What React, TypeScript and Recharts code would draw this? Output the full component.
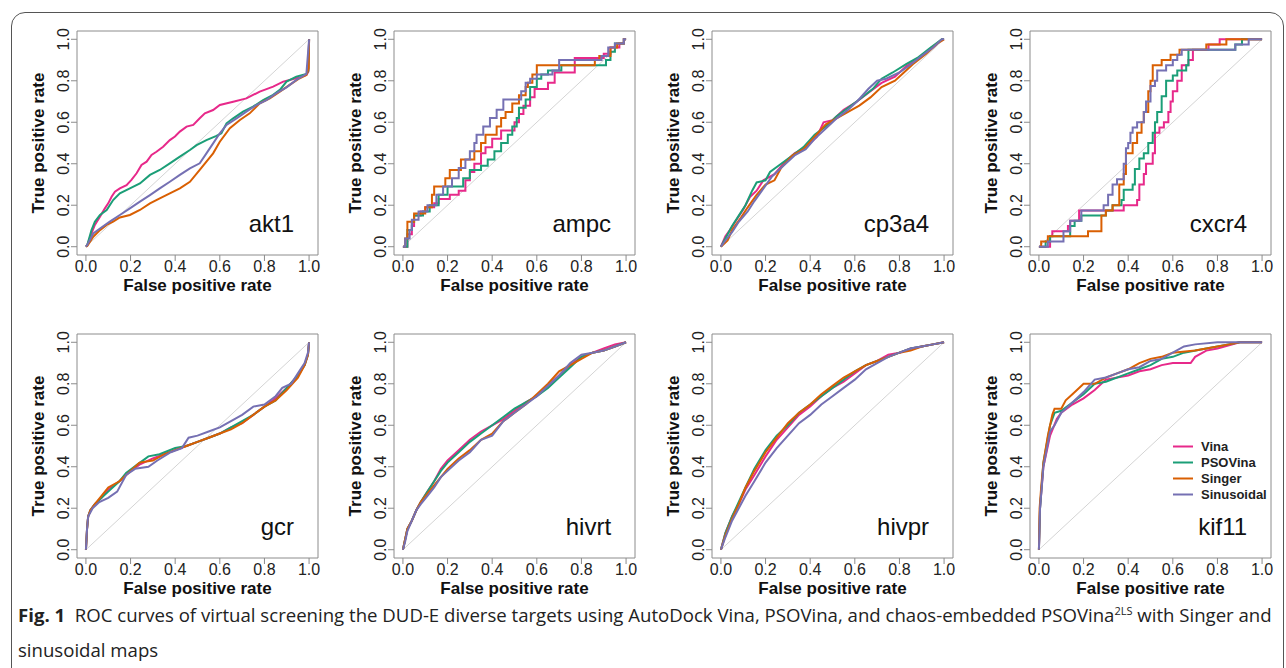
import { LineChart, Line, XAxis, YAxis, ReferenceLine, ReferenceArea, ReferenceDot, Label } from 'recharts';

type Pt = [number, number];

const SERIES_NAMES = ['Vina', 'PSOVina', 'Singer', 'Sinusoidal'];
const SERIES_COLORS = ['#e7298a', '#1b9e77', '#d95f02', '#7570b3'];
const TICKS = [0, 0.2, 0.4, 0.6, 0.8, 1.0];
const TARGETS = ['akt1', 'ampc', 'cp3a4', 'cxcr4', 'gcr', 'hivrt', 'hivpr', 'kif11'];
const STEPPED = ['ampc', 'cxcr4'];

// --- akt1
const AKT1_VINA: Pt[] = [[0, 0], [0.006, 0.008], [0.025, 0.064], [0.04, 0.105], [0.063, 0.145], [0.085, 0.185], [0.1, 0.209], [0.115, 0.241], [0.13, 0.265], [0.152, 0.281], [0.182, 0.297], [0.204, 0.322], [0.227, 0.354], [0.249, 0.394], [0.272, 0.41], [0.294, 0.442], [0.316, 0.458], [0.346, 0.482], [0.376, 0.514], [0.399, 0.531], [0.421, 0.555], [0.451, 0.579], [0.481, 0.587], [0.51, 0.619], [0.533, 0.643], [0.57, 0.659], [0.6, 0.683], [0.66, 0.699], [0.719, 0.715], [0.779, 0.748], [0.839, 0.772], [0.884, 0.796], [0.913, 0.804], [0.958, 0.817], [0.988, 0.828], [0.997, 0.844], [1, 0.997], [1, 1]];
const AKT1_PSOVINA: Pt[] = [[0, 0], [0.006, 0.008], [0.025, 0.08], [0.04, 0.12], [0.063, 0.153], [0.093, 0.177], [0.122, 0.225], [0.152, 0.257], [0.197, 0.281], [0.242, 0.305], [0.287, 0.346], [0.331, 0.37], [0.376, 0.402], [0.421, 0.434], [0.466, 0.466], [0.496, 0.49], [0.54, 0.514], [0.585, 0.534], [0.607, 0.547], [0.63, 0.595], [0.66, 0.619], [0.704, 0.651], [0.749, 0.675], [0.794, 0.707], [0.839, 0.732], [0.869, 0.756], [0.899, 0.796], [0.943, 0.82], [0.988, 0.833], [0.997, 0.849], [1, 0.997], [1, 1]];
const AKT1_SINGER: Pt[] = [[0, 0], [0.006, 0.003], [0.033, 0.048], [0.063, 0.08], [0.093, 0.105], [0.122, 0.121], [0.152, 0.141], [0.197, 0.153], [0.242, 0.177], [0.287, 0.209], [0.331, 0.233], [0.376, 0.257], [0.421, 0.281], [0.466, 0.313], [0.51, 0.37], [0.54, 0.41], [0.57, 0.45], [0.6, 0.506], [0.645, 0.571], [0.69, 0.611], [0.734, 0.643], [0.779, 0.691], [0.824, 0.715], [0.869, 0.748], [0.913, 0.78], [0.958, 0.812], [0.988, 0.828], [0.998, 0.86], [1, 1]];
const AKT1_SINUSOIDAL: Pt[] = [[0, 0], [0.006, 0.008], [0.033, 0.064], [0.063, 0.088], [0.107, 0.121], [0.152, 0.153], [0.197, 0.185], [0.242, 0.217], [0.287, 0.249], [0.331, 0.281], [0.376, 0.313], [0.421, 0.346], [0.466, 0.378], [0.51, 0.402], [0.54, 0.45], [0.57, 0.498], [0.6, 0.547], [0.63, 0.587], [0.675, 0.619], [0.719, 0.651], [0.764, 0.683], [0.809, 0.707], [0.854, 0.74], [0.899, 0.768], [0.943, 0.804], [0.988, 0.833], [1, 0.997], [1, 1]];

// --- ampc
const AMPC_VINA: Pt[] = [[0, 0], [0.02, 0.06], [0.04, 0.1], [0.05, 0.15], [0.08, 0.17], [0.1, 0.19], [0.14, 0.21], [0.16, 0.23], [0.21, 0.25], [0.25, 0.27], [0.28, 0.32], [0.3, 0.36], [0.32, 0.4], [0.35, 0.45], [0.37, 0.48], [0.4, 0.52], [0.44, 0.56], [0.5, 0.6], [0.52, 0.64], [0.54, 0.68], [0.57, 0.72], [0.59, 0.76], [0.65, 0.79], [0.68, 0.84], [0.77, 0.91], [0.9, 0.93], [0.93, 0.96], [0.97, 0.98], [0.99, 1], [1, 1]];
const AMPC_PSOVINA: Pt[] = [[0, 0], [0.02, 0.08], [0.04, 0.12], [0.05, 0.15], [0.09, 0.17], [0.12, 0.2], [0.16, 0.25], [0.2, 0.29], [0.27, 0.33], [0.3, 0.37], [0.35, 0.39], [0.38, 0.42], [0.41, 0.46], [0.44, 0.5], [0.47, 0.54], [0.49, 0.58], [0.51, 0.62], [0.52, 0.67], [0.55, 0.71], [0.57, 0.77], [0.6, 0.81], [0.62, 0.83], [0.65, 0.85], [0.71, 0.875], [0.91, 0.9], [0.93, 0.94], [0.95, 0.98], [0.99, 1], [1, 1]];
const AMPC_SINGER: Pt[] = [[0, 0], [0.01, 0.04], [0.02, 0.12], [0.05, 0.16], [0.1, 0.19], [0.13, 0.25], [0.14, 0.29], [0.19, 0.33], [0.21, 0.37], [0.26, 0.42], [0.32, 0.46], [0.35, 0.5], [0.37, 0.54], [0.42, 0.58], [0.44, 0.62], [0.46, 0.65], [0.49, 0.69], [0.52, 0.73], [0.55, 0.77], [0.56, 0.79], [0.58, 0.83], [0.6, 0.875], [0.86, 0.9], [0.88, 0.92], [0.93, 0.96], [0.96, 0.98], [0.99, 1], [1, 1]];
const AMPC_SINUSOIDAL: Pt[] = [[0, 0], [0.01, 0.04], [0.03, 0.08], [0.04, 0.13], [0.07, 0.17], [0.11, 0.2], [0.15, 0.25], [0.18, 0.29], [0.22, 0.33], [0.25, 0.38], [0.28, 0.42], [0.3, 0.46], [0.32, 0.5], [0.33, 0.54], [0.36, 0.58], [0.39, 0.62], [0.42, 0.66], [0.45, 0.71], [0.53, 0.75], [0.55, 0.79], [0.57, 0.81], [0.6, 0.83], [0.67, 0.85], [0.7, 0.9], [0.89, 0.92], [0.92, 0.96], [0.95, 0.98], [0.99, 1], [1, 1]];

// --- cp3a4
const CP3A4_VINA: Pt[] = [[0, 0], [0.02, 0.05], [0.04, 0.08], [0.07, 0.13], [0.1, 0.18], [0.13, 0.24], [0.16, 0.27], [0.19, 0.32], [0.24, 0.35], [0.28, 0.4], [0.33, 0.45], [0.38, 0.48], [0.43, 0.53], [0.46, 0.6], [0.5, 0.61], [0.55, 0.66], [0.61, 0.7], [0.67, 0.75], [0.72, 0.79], [0.78, 0.82], [0.83, 0.87], [0.89, 0.91], [0.95, 0.96], [0.99, 1], [1, 1]];
const CP3A4_PSOVINA: Pt[] = [[0, 0], [0.02, 0.04], [0.05, 0.1], [0.08, 0.15], [0.11, 0.2], [0.14, 0.27], [0.16, 0.31], [0.2, 0.32], [0.22, 0.36], [0.27, 0.4], [0.32, 0.44], [0.37, 0.48], [0.42, 0.54], [0.47, 0.58], [0.52, 0.63], [0.57, 0.67], [0.62, 0.71], [0.68, 0.76], [0.72, 0.81], [0.77, 0.84], [0.83, 0.88], [0.88, 0.91], [0.94, 0.96], [0.99, 1], [1, 1]];
const CP3A4_SINGER: Pt[] = [[0, 0], [0.03, 0.03], [0.05, 0.08], [0.09, 0.14], [0.12, 0.19], [0.16, 0.25], [0.2, 0.3], [0.24, 0.32], [0.27, 0.38], [0.32, 0.44], [0.37, 0.47], [0.42, 0.53], [0.47, 0.59], [0.52, 0.62], [0.57, 0.65], [0.62, 0.68], [0.67, 0.72], [0.72, 0.77], [0.78, 0.8], [0.82, 0.84], [0.86, 0.88], [0.92, 0.93], [0.97, 0.98], [1, 1]];
const CP3A4_SINUSOIDAL: Pt[] = [[0, 0], [0.02, 0.03], [0.05, 0.07], [0.08, 0.12], [0.12, 0.17], [0.15, 0.22], [0.19, 0.28], [0.23, 0.34], [0.28, 0.39], [0.33, 0.44], [0.38, 0.47], [0.42, 0.52], [0.47, 0.57], [0.52, 0.62], [0.57, 0.66], [0.61, 0.7], [0.66, 0.76], [0.7, 0.8], [0.74, 0.81], [0.8, 0.84], [0.84, 0.87], [0.9, 0.92], [0.95, 0.96], [0.99, 1], [1, 1]];

// --- cxcr4
const CXCR4_VINA: Pt[] = [[0, 0], [0.05, 0.05], [0.06, 0.075], [0.13, 0.1], [0.14, 0.125], [0.18, 0.175], [0.38, 0.2], [0.44, 0.225], [0.45, 0.3], [0.47, 0.35], [0.48, 0.4], [0.51, 0.45], [0.52, 0.55], [0.54, 0.575], [0.56, 0.6], [0.58, 0.65], [0.59, 0.7], [0.6, 0.75], [0.62, 0.8], [0.64, 0.875], [0.67, 0.9], [0.69, 0.95], [0.76, 0.975], [0.81, 1], [1, 1]];
const CXCR4_PSOVINA: Pt[] = [[0, 0], [0.03, 0.025], [0.05, 0.05], [0.14, 0.1], [0.16, 0.125], [0.19, 0.15], [0.3, 0.175], [0.33, 0.2], [0.37, 0.225], [0.38, 0.275], [0.42, 0.3], [0.43, 0.375], [0.45, 0.425], [0.47, 0.45], [0.49, 0.5], [0.51, 0.55], [0.52, 0.6], [0.53, 0.65], [0.55, 0.725], [0.57, 0.8], [0.6, 0.825], [0.62, 0.85], [0.66, 0.875], [0.67, 0.95], [0.88, 0.975], [0.91, 1], [1, 1]];
const CXCR4_SINGER: Pt[] = [[0, 0], [0.01, 0.025], [0.04, 0.05], [0.13, 0.05], [0.22, 0.075], [0.28, 0.15], [0.3, 0.175], [0.33, 0.2], [0.36, 0.3], [0.38, 0.35], [0.39, 0.45], [0.42, 0.5], [0.44, 0.55], [0.46, 0.6], [0.47, 0.65], [0.49, 0.75], [0.5, 0.8], [0.51, 0.875], [0.55, 0.9], [0.59, 0.925], [0.63, 0.95], [0.75, 0.975], [0.84, 1], [1, 1]];
const CXCR4_SINUSOIDAL: Pt[] = [[0, 0], [0.04, 0.025], [0.11, 0.075], [0.14, 0.125], [0.19, 0.175], [0.29, 0.2], [0.31, 0.25], [0.33, 0.3], [0.35, 0.325], [0.38, 0.4], [0.39, 0.475], [0.4, 0.5], [0.41, 0.55], [0.42, 0.575], [0.44, 0.6], [0.47, 0.65], [0.48, 0.7], [0.5, 0.775], [0.52, 0.8], [0.53, 0.85], [0.57, 0.875], [0.6, 0.9], [0.62, 0.925], [0.64, 0.95], [0.88, 0.975], [0.94, 1], [1, 1]];

// --- gcr
const GCR_VINA: Pt[] = [[0, 0], [0.005, 0.1], [0.01, 0.16], [0.02, 0.19], [0.04, 0.22], [0.07, 0.25], [0.1, 0.29], [0.15, 0.33], [0.19, 0.37], [0.24, 0.41], [0.3, 0.44], [0.35, 0.46], [0.4, 0.48], [0.45, 0.5], [0.5, 0.52], [0.55, 0.54], [0.6, 0.56], [0.65, 0.59], [0.7, 0.61], [0.75, 0.65], [0.8, 0.69], [0.85, 0.73], [0.9, 0.78], [0.95, 0.84], [0.98, 0.89], [0.995, 0.94], [1, 1]];
const GCR_PSOVINA: Pt[] = [[0, 0], [0.005, 0.1], [0.01, 0.16], [0.02, 0.19], [0.04, 0.22], [0.07, 0.25], [0.1, 0.28], [0.15, 0.33], [0.18, 0.37], [0.23, 0.41], [0.28, 0.45], [0.33, 0.46], [0.4, 0.49], [0.45, 0.5], [0.5, 0.52], [0.55, 0.54], [0.6, 0.56], [0.65, 0.59], [0.7, 0.62], [0.75, 0.65], [0.8, 0.69], [0.85, 0.72], [0.9, 0.78], [0.95, 0.84], [0.98, 0.89], [0.995, 0.94], [1, 1]];
const GCR_SINGER: Pt[] = [[0, 0], [0.005, 0.1], [0.01, 0.16], [0.02, 0.19], [0.04, 0.22], [0.07, 0.26], [0.1, 0.3], [0.15, 0.33], [0.19, 0.37], [0.24, 0.42], [0.3, 0.43], [0.35, 0.46], [0.4, 0.48], [0.45, 0.5], [0.5, 0.52], [0.55, 0.54], [0.6, 0.56], [0.65, 0.58], [0.7, 0.61], [0.75, 0.65], [0.8, 0.69], [0.85, 0.72], [0.9, 0.77], [0.95, 0.83], [0.98, 0.89], [0.995, 0.94], [1, 1]];
const GCR_SINUSOIDAL: Pt[] = [[0, 0], [0.005, 0.1], [0.01, 0.16], [0.03, 0.2], [0.06, 0.23], [0.1, 0.25], [0.14, 0.28], [0.18, 0.36], [0.22, 0.39], [0.28, 0.4], [0.32, 0.43], [0.38, 0.47], [0.43, 0.49], [0.46, 0.54], [0.5, 0.55], [0.55, 0.57], [0.6, 0.59], [0.65, 0.62], [0.7, 0.65], [0.75, 0.69], [0.8, 0.7], [0.85, 0.74], [0.88, 0.78], [0.92, 0.8], [0.95, 0.85], [0.98, 0.9], [0.995, 0.95], [1, 1]];

// --- hivrt
const HIVRT_VINA: Pt[] = [[0, 0], [0.01, 0.05], [0.02, 0.1], [0.04, 0.14], [0.06, 0.19], [0.08, 0.23], [0.11, 0.28], [0.14, 0.33], [0.17, 0.39], [0.2, 0.43], [0.25, 0.48], [0.3, 0.53], [0.35, 0.57], [0.4, 0.6], [0.45, 0.63], [0.5, 0.67], [0.55, 0.71], [0.6, 0.74], [0.65, 0.79], [0.7, 0.84], [0.75, 0.89], [0.8, 0.93], [0.85, 0.95], [0.9, 0.97], [0.95, 0.99], [1, 1]];
const HIVRT_PSOVINA: Pt[] = [[0, 0], [0.01, 0.05], [0.02, 0.1], [0.04, 0.14], [0.06, 0.19], [0.08, 0.23], [0.11, 0.28], [0.14, 0.33], [0.17, 0.38], [0.2, 0.42], [0.25, 0.47], [0.3, 0.52], [0.35, 0.56], [0.4, 0.6], [0.45, 0.64], [0.5, 0.68], [0.55, 0.71], [0.6, 0.74], [0.65, 0.78], [0.7, 0.83], [0.75, 0.88], [0.8, 0.93], [0.85, 0.95], [0.9, 0.96], [0.95, 0.98], [1, 1]];
const HIVRT_SINGER: Pt[] = [[0, 0], [0.01, 0.05], [0.02, 0.1], [0.04, 0.14], [0.06, 0.19], [0.08, 0.23], [0.11, 0.27], [0.14, 0.31], [0.17, 0.35], [0.2, 0.39], [0.25, 0.44], [0.3, 0.48], [0.35, 0.53], [0.4, 0.56], [0.45, 0.62], [0.5, 0.66], [0.55, 0.7], [0.6, 0.75], [0.65, 0.8], [0.7, 0.86], [0.75, 0.89], [0.8, 0.92], [0.85, 0.95], [0.9, 0.96], [0.95, 0.98], [1, 1]];
const HIVRT_SINUSOIDAL: Pt[] = [[0, 0], [0.01, 0.04], [0.02, 0.09], [0.04, 0.14], [0.06, 0.19], [0.08, 0.22], [0.11, 0.26], [0.14, 0.3], [0.17, 0.35], [0.2, 0.38], [0.25, 0.43], [0.3, 0.47], [0.35, 0.53], [0.4, 0.55], [0.45, 0.62], [0.5, 0.66], [0.55, 0.7], [0.6, 0.74], [0.65, 0.79], [0.7, 0.84], [0.75, 0.9], [0.8, 0.94], [0.85, 0.95], [0.9, 0.96], [0.95, 0.98], [1, 1]];

// --- hivpr
const HIVPR_VINA: Pt[] = [[0, 0], [0.02, 0.08], [0.05, 0.16], [0.08, 0.22], [0.11, 0.29], [0.15, 0.36], [0.2, 0.45], [0.25, 0.53], [0.3, 0.59], [0.35, 0.65], [0.4, 0.69], [0.45, 0.74], [0.5, 0.78], [0.55, 0.81], [0.6, 0.85], [0.65, 0.89], [0.7, 0.91], [0.75, 0.94], [0.8, 0.95], [0.85, 0.97], [0.9, 0.98], [0.95, 0.99], [1, 1]];
const HIVPR_PSOVINA: Pt[] = [[0, 0], [0.02, 0.08], [0.05, 0.16], [0.08, 0.23], [0.11, 0.3], [0.15, 0.39], [0.2, 0.48], [0.25, 0.55], [0.3, 0.6], [0.35, 0.66], [0.4, 0.7], [0.45, 0.74], [0.5, 0.78], [0.55, 0.82], [0.6, 0.86], [0.65, 0.89], [0.7, 0.91], [0.75, 0.93], [0.8, 0.95], [0.85, 0.97], [0.9, 0.98], [0.95, 0.99], [1, 1]];
const HIVPR_SINGER: Pt[] = [[0, 0], [0.02, 0.07], [0.05, 0.15], [0.08, 0.22], [0.11, 0.3], [0.15, 0.38], [0.2, 0.47], [0.25, 0.54], [0.3, 0.61], [0.35, 0.66], [0.4, 0.7], [0.45, 0.75], [0.5, 0.79], [0.55, 0.83], [0.6, 0.86], [0.65, 0.89], [0.7, 0.91], [0.75, 0.93], [0.8, 0.95], [0.85, 0.96], [0.9, 0.98], [0.95, 0.99], [1, 1]];
const HIVPR_SINUSOIDAL: Pt[] = [[0, 0], [0.02, 0.06], [0.05, 0.14], [0.08, 0.2], [0.11, 0.26], [0.15, 0.33], [0.2, 0.42], [0.25, 0.49], [0.3, 0.55], [0.35, 0.61], [0.4, 0.65], [0.45, 0.7], [0.5, 0.74], [0.55, 0.78], [0.6, 0.82], [0.65, 0.87], [0.7, 0.9], [0.75, 0.93], [0.8, 0.95], [0.85, 0.97], [0.9, 0.98], [0.95, 0.99], [1, 1]];

// --- kif11
const KIF11_VINA: Pt[] = [[0, 0], [0.005, 0.2], [0.02, 0.4], [0.05, 0.55], [0.08, 0.63], [0.1, 0.66], [0.15, 0.7], [0.2, 0.73], [0.25, 0.77], [0.3, 0.82], [0.4, 0.84], [0.45, 0.86], [0.5, 0.87], [0.55, 0.89], [0.6, 0.9], [0.68, 0.9], [0.7, 0.93], [0.75, 0.96], [0.8, 0.97], [0.9, 1], [1, 1]];
const KIF11_PSOVINA: Pt[] = [[0, 0], [0.005, 0.2], [0.02, 0.42], [0.05, 0.6], [0.07, 0.66], [0.1, 0.67], [0.15, 0.71], [0.2, 0.75], [0.25, 0.8], [0.3, 0.81], [0.4, 0.85], [0.45, 0.87], [0.5, 0.89], [0.55, 0.92], [0.6, 0.93], [0.65, 0.95], [0.75, 0.97], [0.85, 0.99], [0.9, 1], [1, 1]];
const KIF11_SINGER: Pt[] = [[0, 0], [0.003, 0.2], [0.01, 0.3], [0.02, 0.42], [0.04, 0.55], [0.06, 0.65], [0.07, 0.68], [0.1, 0.68], [0.12, 0.72], [0.15, 0.75], [0.18, 0.78], [0.2, 0.8], [0.25, 0.8], [0.3, 0.83], [0.35, 0.85], [0.4, 0.87], [0.45, 0.9], [0.5, 0.92], [0.55, 0.93], [0.6, 0.95], [0.7, 0.96], [0.8, 0.98], [0.85, 0.99], [0.9, 1], [1, 1]];
const KIF11_SINUSOIDAL: Pt[] = [[0, 0], [0.005, 0.2], [0.02, 0.4], [0.05, 0.57], [0.07, 0.6], [0.1, 0.66], [0.15, 0.71], [0.2, 0.76], [0.25, 0.82], [0.3, 0.83], [0.35, 0.85], [0.4, 0.87], [0.45, 0.88], [0.5, 0.91], [0.55, 0.92], [0.6, 0.95], [0.65, 0.98], [0.7, 0.99], [0.8, 1], [1, 1]];

const CURVES: Record<string, Pt[][]> = {
  akt1: [AKT1_VINA, AKT1_PSOVINA, AKT1_SINGER, AKT1_SINUSOIDAL],
  ampc: [AMPC_VINA, AMPC_PSOVINA, AMPC_SINGER, AMPC_SINUSOIDAL],
  cp3a4: [CP3A4_VINA, CP3A4_PSOVINA, CP3A4_SINGER, CP3A4_SINUSOIDAL],
  cxcr4: [CXCR4_VINA, CXCR4_PSOVINA, CXCR4_SINGER, CXCR4_SINUSOIDAL],
  gcr: [GCR_VINA, GCR_PSOVINA, GCR_SINGER, GCR_SINUSOIDAL],
  hivrt: [HIVRT_VINA, HIVRT_PSOVINA, HIVRT_SINGER, HIVRT_SINUSOIDAL],
  hivpr: [HIVPR_VINA, HIVPR_PSOVINA, HIVPR_SINGER, HIVPR_SINUSOIDAL],
  kif11: [KIF11_VINA, KIF11_PSOVINA, KIF11_SINGER, KIF11_SINUSOIDAL],
};

const FONT = '"Liberation Sans", Arial, Helvetica, sans-serif';
const CAPTION_FONT = '"Open Sans", "Noto Sans", sans-serif';
const BOX = '#8c8c8c';
const DOMAIN: [number, number] = [-0.04, 1.04];

// panel geometry
const CHART_W = 311;
const CHART_H = 284;
const Y_AXIS_W = 65;
const X_AXIS_H = 50;
const M_TOP = 10;
const COL_LEFT = [12, 329, 647, 965];
const ROW_TOP = [21, 324];

const YTick = (props: any) => {
  const { x, y, payload } = props;
  return (
    <text x={x} y={y} transform={`rotate(-90, ${x}, ${y})`} textAnchor="middle" fill="#222" fontSize={16} fontFamily={FONT}>
      {Number(payload.value).toFixed(1)}
    </text>
  );
};

const YTitle = (props: any) => {
  const { viewBox } = props;
  const x = viewBox.x + viewBox.width - 33;
  const y = viewBox.y + viewBox.height / 2;
  return (
    <text x={x} y={y} transform={`rotate(-90, ${x}, ${y})`} textAnchor="middle" fill="#111" fontSize={17} fontWeight="bold" fontFamily={FONT}>
      True positive rate
    </text>
  );
};

const XTitle = (props: any) => {
  const { viewBox } = props;
  return (
    <text x={viewBox.x + viewBox.width / 2} y={viewBox.y + 36} textAnchor="middle" fill="#111" fontSize={17} fontWeight="bold" fontFamily={FONT}>
      False positive rate
    </text>
  );
};

function RocPanel({ target, left, top }: { target: string; left: number; top: number }) {
  const curves = CURVES[target];
  const stepped = STEPPED.includes(target);
  return (
    <div style={{ position: 'absolute', left, top }}>
      <LineChart width={CHART_W} height={CHART_H} margin={{ top: M_TOP, right: 5, left: 0, bottom: 0 }}>
        <XAxis
          type="number"
          dataKey="x"
          domain={DOMAIN}
          ticks={TICKS}
          allowDataOverflow
          axisLine={false}
          tickLine={{ stroke: BOX }}
          tickSize={6}
          tickMargin={0}
          height={X_AXIS_H}
          tickFormatter={(v: number) => v.toFixed(1)}
          tick={{ fill: '#222', fontSize: 16, fontFamily: FONT }}
          label={<Label content={<XTitle />} />}
        />
        <YAxis
          type="number"
          dataKey="y"
          domain={DOMAIN}
          ticks={TICKS}
          allowDataOverflow
          axisLine={false}
          tickLine={{ stroke: BOX }}
          tickSize={6}
          width={Y_AXIS_W}
          tick={<YTick />}
          label={<Label content={<YTitle />} />}
        />
        <ReferenceArea x1={DOMAIN[0]} x2={DOMAIN[1]} y1={DOMAIN[0]} y2={DOMAIN[1]} fill="none" stroke={BOX} strokeWidth={1} />
        <ReferenceLine segment={[{ x: 0, y: 0 }, { x: 1, y: 1 }]} stroke="#d4d4d4" strokeWidth={1} />
        {curves.map((c, i) => (
          <Line
            key={SERIES_NAMES[i]}
            name={SERIES_NAMES[i]}
            data={c.map(([x, y]) => ({ x, y }))}
            dataKey="y"
            type={stepped ? 'stepAfter' : 'linear'}
            stroke={SERIES_COLORS[i]}
            strokeWidth={2}
            dot={false}
            activeDot={false}
            isAnimationActive={false}
          />
        ))}
        <ReferenceDot
          x={0.933}
          y={0.071}
          r={0}
          shape={(p: any) => (
            <text x={p.cx} y={p.cy} textAnchor="end" fill="#111" fontSize={24} fontFamily={FONT}>
              {target}
            </text>
          )}
        />
      </LineChart>
    </div>
  );
}

function KeyBox() {
  return (
    <div style={{ position: 'absolute', left: 1171, top: 438, fontFamily: FONT, fontSize: 13, fontWeight: 'bold', color: '#222' }}>
      {SERIES_NAMES.map((n, i) => (
        <div key={n} style={{ display: 'flex', alignItems: 'center', height: 16 }}>
          <svg width={30} height={16}>
            <line x1={2} x2={22} y1={8.5} y2={8.5} stroke={SERIES_COLORS[i]} strokeWidth={2} />
          </svg>
          <span>{n}</span>
        </div>
      ))}
    </div>
  );
}

export default function App() {
  return (
    <div style={{ position: 'absolute', left: 0, top: 0, width: 1286, height: 668, overflow: 'hidden', background: '#fff' }}>
      <div style={{ position: 'absolute', left: 11, top: 12, width: 1271, height: 720, border: '1.5px solid #555', borderRadius: 14 }} />
      {TARGETS.map((t, i) => (
        <RocPanel key={t} target={t} left={COL_LEFT[i % 4]} top={ROW_TOP[Math.floor(i / 4)]} />
      ))}
      <KeyBox />
      <div
        style={{
          position: 'absolute',
          left: 18,
          top: 593,
          fontFamily: CAPTION_FONT,
          fontSize: 18.6,
          lineHeight: '35px',
          color: '#222',
          whiteSpace: 'nowrap',
        }}
      >
        <b>Fig. 1</b>&nbsp;&nbsp;ROC curves of virtual screening the DUD-E diverse targets using AutoDock Vina, PSOVina, and chaos-embedded PSOVina
        <sup style={{ fontSize: 11 }}>2LS</sup> with Singer and
        <br />
        sinusoidal maps
      </div>
    </div>
  );
}
